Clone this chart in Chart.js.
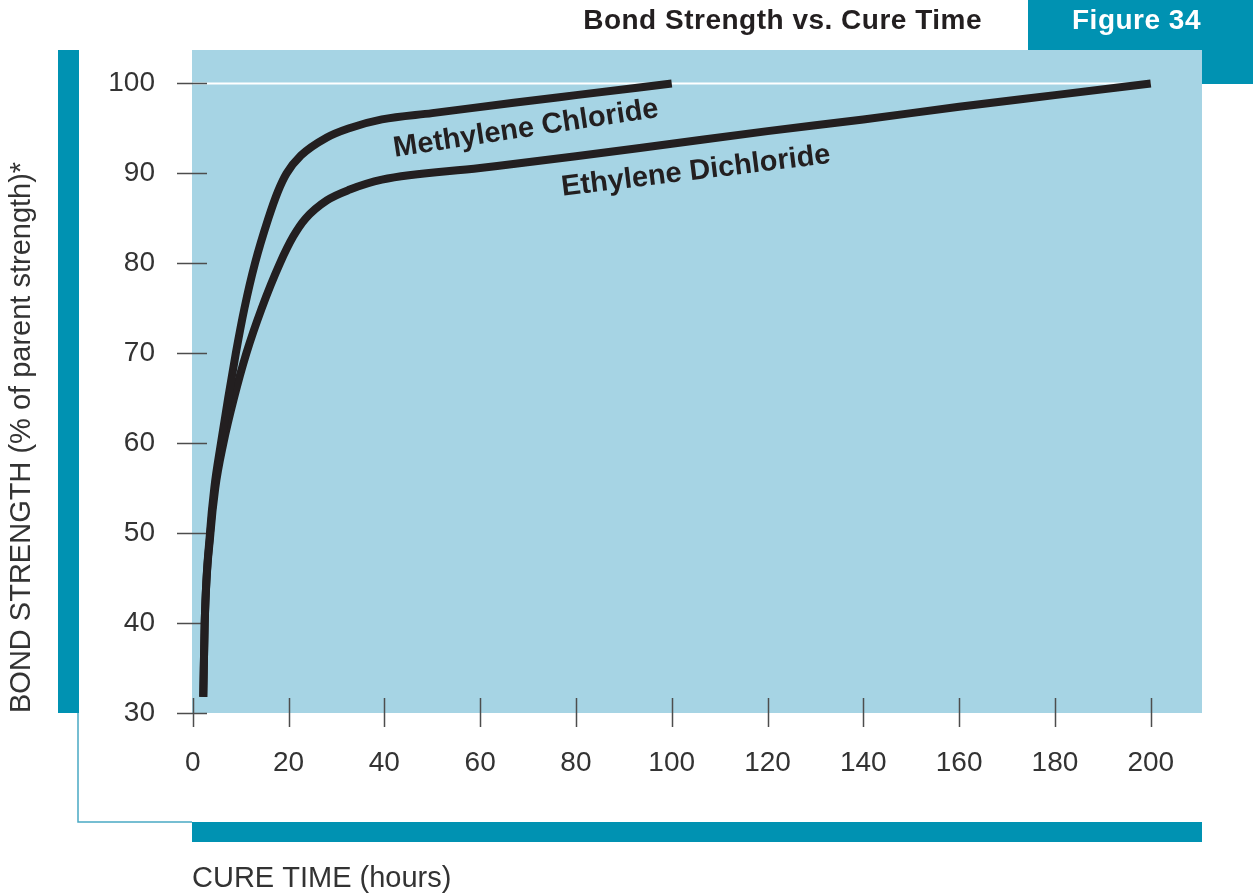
<!DOCTYPE html>
<html>
<head>
<meta charset="utf-8">
<script src="https://cdn.jsdelivr.net/npm/chart.js"></script>
<style>
  body { margin: 0; background: #fff; }
  #wrap { width: 1253px; height: 893px; }
</style>
</head>
<body>
<div id="wrap"><canvas id="myChart" width="1253" height="893"></canvas></div>
<script>
// cure time (hours) / bond strength (%)
const mcHours    = [2.2, 2.5, 3.6, 4.5, 5.9, 7.4, 9.0, 10.8, 13.0, 15.8, 17.8, 19.6, 22.6, 28.0, 32.5, 39.5, 50, 67, 80, 100];
const mcStrength = [31.8, 40, 50, 55, 60, 65, 70, 75, 80, 85, 88, 90, 92, 94, 95, 96, 96.7, 97.85, 98.7, 100];

const edHours    = [2.2, 2.5, 3.7, 4.7, 6.4, 8.6, 11.2, 14.4, 18.2, 21.0, 23.6, 28.0, 32.8, 39.5, 60, 80, 100, 120, 140, 160, 180, 200];
const edStrength = [31.8, 40, 50, 55, 60, 65, 70, 75, 80, 83, 85, 87, 88.2, 89.3, 90.6, 91.9, 93.3, 94.7, 96.0, 97.4, 98.7, 100];

const seriesNames = ["Methylene Chloride", "Ethylene Dichloride"];
const xTicks = [0, 20, 40, 60, 80, 100, 120, 140, 160, 180, 200];
const yTicks = [30, 40, 50, 60, 70, 80, 90, 100];

const FONT = "'Liberation Sans', Arial, Helvetica, sans-serif";
const TEAL = "#0092b2";
const PLOT_BG = "#a6d4e4";
const INK = "#231f20";

function pts(xs, ys) {
    return xs.map((x, i) => ({ x: x, y: ys[i] }));
}

// where each curve's name sits (data coords) and its slant
const curveLabels = [
    { text: seriesNames[0], x: 42.2, y: 91.85, angle: -8.6 },
    { text: seriesNames[1], x: 77.2, y: 87.5, angle: -7.0 }
];

const decor = {
    id: "decor",
    beforeDraw(chart) {
        const ctx = chart.ctx;
        const a = chart.chartArea;
        ctx.save();
        ctx.fillStyle = "#fff";
        ctx.fillRect(0, 0, chart.width, chart.height);

        // plot background
        ctx.fillStyle = PLOT_BG;
        ctx.fillRect(a.left, a.top, a.right - a.left, a.bottom - a.top);

        // teal frame pieces
        ctx.fillStyle = TEAL;
        ctx.fillRect(58, a.top, 21, a.bottom - a.top);
        ctx.fillRect(a.left, 822, a.right - a.left, 20);
        ctx.fillRect(1028, 0, chart.width - 1028, a.top);
        ctx.fillRect(a.right, a.top, chart.width - a.right, 34);

        ctx.strokeStyle = "#4aa9c4";
        ctx.lineWidth = 1.5;
        ctx.beginPath();
        ctx.moveTo(78, a.bottom);
        ctx.lineTo(78, 822);
        ctx.lineTo(a.left, 822);
        ctx.stroke();

        // header
        ctx.textBaseline = "alphabetic";
        ctx.font = "bold 28px " + FONT;
        ctx.fillStyle = INK;
        ctx.textAlign = "right";
        ctx.letterSpacing = "0.5px";
        ctx.fillText("Bond Strength vs. Cure Time", 982, 28.5);
        ctx.fillStyle = "#fff";
        ctx.textAlign = "left";
        ctx.fillText("Figure 34", 1072, 28.5);
        ctx.letterSpacing = "0px";
        ctx.restore();
    },
    beforeDatasetsDraw(chart) {
        const ctx = chart.ctx;
        const xs = chart.scales.x, ys = chart.scales.y;
        ctx.save();
        // white line at 100
        ctx.strokeStyle = "#fff";
        ctx.lineWidth = 2;
        ctx.beginPath();
        ctx.moveTo(xs.getPixelForValue(0), ys.getPixelForValue(100));
        ctx.lineTo(xs.getPixelForValue(200), ys.getPixelForValue(100));
        ctx.stroke();

        // tick marks straddling the axes
        ctx.strokeStyle = "#4d4d4d";
        ctx.lineWidth = 1.5;
        ctx.beginPath();
        ys.ticks.forEach(t => {
            const py = Math.round(ys.getPixelForValue(t.value)) + 0.5;
            ctx.moveTo(chart.chartArea.left - 15, py);
            ctx.lineTo(chart.chartArea.left + 15, py);
        });
        xs.ticks.forEach(t => {
            const px = Math.round(xs.getPixelForValue(t.value)) + 0.5;
            ctx.moveTo(px, chart.chartArea.bottom - 15);
            ctx.lineTo(px, chart.chartArea.bottom + 14);
        });
        ctx.stroke();
        ctx.restore();
    },
    afterDatasetsDraw(chart) {
        const ctx = chart.ctx;
        const xs = chart.scales.x, ys = chart.scales.y;
        ctx.save();
        ctx.font = "bold 29px " + FONT;
        ctx.fillStyle = INK;
        ctx.textAlign = "left";
        ctx.textBaseline = "alphabetic";
        curveLabels.forEach(l => {
            ctx.save();
            ctx.translate(xs.getPixelForValue(l.x), ys.getPixelForValue(l.y));
            ctx.rotate(l.angle * Math.PI / 180);
            ctx.fillText(l.text, 0, 0);
            ctx.restore();
        });
        ctx.restore();
    }
};

const lineStyle = {
    borderColor: INK,
    borderWidth: 8,
    pointRadius: 0,
    fill: false,
    cubicInterpolationMode: "monotone",
    clip: false
};

const ctx = document.getElementById("myChart").getContext("2d");
const myChart = new Chart(ctx, {
    type: "line",
    data: {
        datasets: [
            Object.assign({ label: seriesNames[0], data: pts(mcHours, mcStrength) }, lineStyle),
            Object.assign({ label: seriesNames[1], data: pts(edHours, edStrength) }, lineStyle)
        ]
    },
    options: {
        responsive: false,
        animation: false,
        layout: { padding: { top: 50, right: 51, left: 0, bottom: 0 } },
        plugins: { legend: { display: false }, tooltip: { enabled: false } },
        scales: {
            x: {
                type: "linear",
                min: -0.15,
                max: 210.7,
                afterBuildTicks: s => { s.ticks = xTicks.map(v => ({ value: v })); },
                afterFit: s => { s.height = 180; },
                grid: { display: false, drawTicks: false },
                border: { display: false },
                ticks: {
                    padding: 33,
                    color: "#333",
                    font: { family: FONT, size: 28, lineHeight: 1.2 },
                    maxRotation: 0
                },
                title: {
                    display: true,
                    text: "CURE TIME (hours)",
                    align: "start",
                    color: "#333",
                    padding: { top: 0, bottom: 0 },
                    font: { family: FONT, size: 29, lineHeight: 1 }
                }
            },
            y: {
                type: "linear",
                min: 30,
                max: 103.72,
                afterBuildTicks: s => { s.ticks = yTicks.map(v => ({ value: v })); },
                afterFit: s => { s.width = 192; },
                grid: { display: false, drawTicks: false },
                border: { display: false },
                ticks: {
                    padding: 37,
                    color: "#333",
                    // small line height keeps the label padding from pushing the plot top down
                    font: { family: FONT, size: 28, lineHeight: 0.8 }
                },
                title: {
                    display: true,
                    text: "BOND STRENGTH (% of parent strength)*",
                    align: "start",
                    color: "#333",
                    padding: { top: 7, bottom: 0 },
                    font: { family: FONT, size: 29, lineHeight: 1 }
                }
            }
        }
    },
    plugins: [decor]
});
</script>
</body>
</html>
